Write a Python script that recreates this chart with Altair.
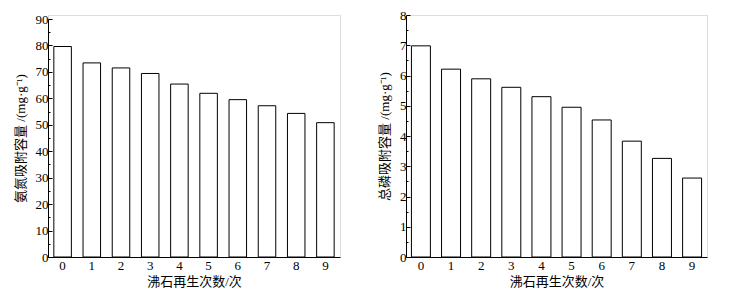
import altair as alt
import pandas as pd

cycles = ["0", "1", "2", "3", "4", "5", "6", "7", "8", "9"]
nh3n_capacity = [79.6, 73.4, 71.5, 69.4, 65.4, 61.9, 59.5, 57.2, 54.3, 50.8]
tp_capacity = [6.98, 6.21, 5.89, 5.61, 5.30, 4.95, 4.53, 3.83, 3.26, 2.61]

x_title = "沸石再生次数/次"
left_y_title = "氨氮吸附容量 /(mg·g⁻¹)"
right_y_title = "总磷吸附容量 /(mg·g⁻¹)"
left_ticks = [v * 5 for v in range(0, 19)]
right_ticks = [v * 0.5 for v in range(0, 17)]

FONT = "Liberation Serif, Noto Sans CJK SC"

df_left = pd.DataFrame({"cycle": cycles, "value": nh3n_capacity})
df_right = pd.DataFrame({"cycle": cycles, "value": tp_capacity})


def x_enc(pad_inner, pad_outer):
    return alt.X(
        "cycle:N",
        sort=cycles,
        scale=alt.Scale(paddingInner=pad_inner, paddingOuter=pad_outer),
        axis=alt.Axis(
            title=x_title,
            labelAngle=0,
            tickSize=0,
            labelPadding=2,
            titlePadding=3,
            domainColor="black",
            labelColor="black",
            titleColor="black",
            labelFont=FONT,
            titleFont=FONT,
            labelFontSize=13,
            titleFontSize=13,
            titleFontWeight="normal",
            grid=False,
        ),
    )


def y_enc(title, vals, dmax, major, rng):
    return alt.Y(
        "value:Q",
        scale=alt.Scale(domain=[0, dmax], nice=False, zero=True, range=rng),
        axis=alt.Axis(
            title=title,
            values=vals,
            format="~g",
            labelExpr=f"datum.value % {major} === 0 ? datum.label : ''",
            tickSize={"expr": f"datum.value % {major} === 0 ? -4 : -2"},
            tickColor="black",
            domainColor="black",
            labelColor="black",
            titleColor="black",
            labelFont=FONT,
            titleFont=FONT,
            labelFontSize=13,
            titleFontSize=13,
            titleFontWeight="normal",
            labelPadding=4,
            titlePadding=8,
            grid=False,
        ),
    )


H = 242

left = alt.Chart(df_left).mark_bar(
    fill="white", stroke="black", strokeWidth=1
).encode(
    x=x_enc(0.4, 0.2),
    y=y_enc(left_y_title, left_ticks, 90, 10, [H, 4]),
).properties(width=292, height=H)

right = alt.Chart(df_right).mark_bar(
    fill="white", stroke="black", strokeWidth=1
).encode(
    x=x_enc(0.37, 0.18),
    y=y_enc(right_y_title, right_ticks, 8, 1, [H, 0]),
).properties(width=301, height=H)

chart = alt.hconcat(left, right, spacing=37).properties(
    padding={"left": 5, "top": 0, "right": 5, "bottom": 0}
).configure_view(stroke=None).configure(background="white")

chart.save("out.html", embed_options={"renderer": "svg", "actions": False})
